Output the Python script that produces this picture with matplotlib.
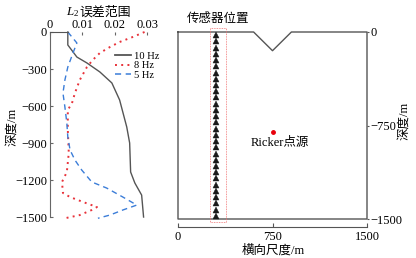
import matplotlib
matplotlib.use("Agg")
import matplotlib.pyplot as plt
from matplotlib.lines import Line2D

plt.rcParams['font.family'] = ['Liberation Serif', 'Noto Sans CJK SC']
plt.rcParams['mathtext.fontset'] = 'custom'
plt.rcParams['mathtext.rm'] = 'Liberation Serif'
plt.rcParams['mathtext.it'] = 'Liberation Serif:italic'
plt.rcParams['axes.unicode_minus'] = True

# ---- data: L2 error profiles (x = error, y = depth m) ----
err_10hz = [0.0055, 0.0055, 0.0083, 0.0114, 0.0154, 0.0191, 0.0215, 0.0237, 0.0246, 0.0249, 0.0262, 0.0283, 0.0289]
dep_10hz = [0, -105, -203, -251, -324, -413, -551, -770, -900, -1135, -1224, -1322, -1500]

err_8hz = [0.0292, 0.0255, 0.0215, 0.0185, 0.0154, 0.0132, 0.0114, 0.0092, 0.0077, 0.0068, 0.0055, 0.0055,
           0.0058, 0.0052, 0.0037, 0.0040, 0.0062, 0.0102, 0.0145, 0.0129, 0.0092, 0.0046]
dep_8hz = [0, -41, -81, -122, -170, -227, -284, -389, -495, -576, -632, -795,
           -981, -1135, -1216, -1305, -1338, -1378, -1419, -1443, -1484, -1510]

err_5hz = [0.0055, 0.0083, 0.0071, 0.0055, 0.0046, 0.0040, 0.0046, 0.0052, 0.0055, 0.0062, 0.0077, 0.0098,
           0.0129, 0.0175, 0.0225, 0.0268, 0.0225, 0.0185, 0.0148]
dep_5hz = [0, -89, -170, -284, -389, -495, -608, -738, -851, -957, -1038, -1119,
           -1216, -1265, -1338, -1403, -1443, -1484, -1510]

series_labels = ['10 Hz', '8 Hz', '5 Hz']
x_ticks_left = [0, 0.01, 0.02, 0.03]
x_ticklabels_left = ['0', '0.01', '0.02', '0.03']
y_ticks_left = [0, -300, -600, -900, -1200, -1500]

# ---- data: model geometry ----
surface_x = [0, 600, 750, 900, 1500, 1500, 0, 0]
surface_y = [0, 0, -150, 0, 0, -1500, -1500, 0]
sensor_x = 300
sensor_depths = [-25, -75, -125, -175, -225, -275, -325, -375, -425, -475,
                 -525, -575, -625, -675, -725, -775, -825, -875, -925, -975,
                 -1025, -1075, -1125, -1175, -1225, -1275, -1325, -1375, -1425, -1475]
sensor_box_x = [250, 380, 380, 250, 250]
sensor_box_y = [35, 35, -1525, -1525, 35]
source_x = [750]
source_y = [-800]
x_ticks_right = [0, 750, 1500]
y_ticks_right = [0, -750, -1500]

W, H = 416, 258
fig = plt.figure(figsize=(W / 100, H / 100), dpi=100)

def ax_rect(x0, y0, x1, y1):
    return [x0 / W, 1 - y1 / H, (x1 - x0) / W, (y1 - y0) / H]

def fx(px):
    return px / W

def fy(py):
    return 1 - py / H

fs = 9
c10, c8, c5 = '#555555', '#e8323a', '#3b7dd8'
ls8 = (0, (1, 2.2))
ls5 = (0, (4, 3))

# ---------------- left panel ----------------
ax1 = fig.add_axes(ax_rect(50, 32, 152, 219.5))
ax1.plot(err_10hz, dep_10hz, color=c10, lw=1.0, clip_on=False)
ax1.plot(err_8hz, dep_8hz, color=c8, lw=1.4, ls=ls8, clip_on=False)
ax1.plot(err_5hz, dep_5hz, color=c5, lw=1.0, ls=ls5, clip_on=False)
ax1.set_xlim(0, 0.0315)
ax1.set_ylim(-1520, 0)
for s in ['right', 'bottom']:
    ax1.spines[s].set_visible(False)
ax1.spines['left'].set_bounds(-1500, 0)
ax1.spines['top'].set_bounds(0, 0.0055)
ax1.spines['left'].set_color('#666666')
ax1.spines['top'].set_color(c10)
ax1.xaxis.tick_top()
ax1.set_xticks(x_ticks_left)
ax1.set_xticklabels(x_ticklabels_left)
ax1.set_yticks(y_ticks_left)
ax1.tick_params(axis='x', direction='in', length=2, pad=1, labelsize=fs, color='#666666')
ax1.tick_params(axis='y', direction='in', length=2, pad=2, labelsize=fs, color='#666666')
# title: italic L with subscript 2, then Chinese text
fig.text(fx(79), fy(15.5), '$L_2$', ha='right', va='baseline', fontsize=fs + 0.3)
fig.text(fx(79), fy(15.5), '误差范围', ha='left', va='baseline', fontsize=fs + 0.3,
         family=['Noto Sans CJK SC', 'Liberation Serif'])
fig.text(fx(12), fy(127), '深度/m', ha='center', va='center', rotation=90, fontsize=fs)
handles = [Line2D([], [], color=c10, lw=1.3),
           Line2D([], [], color=c8, lw=1.4, ls=ls8),
           Line2D([], [], color=c5, lw=1.1, ls=ls5)]
ax1.legend(handles, series_labels, loc='upper left', bbox_to_anchor=(0.635, 0.895),
           frameon=False, fontsize=7.6, handlelength=1.5, handletextpad=0.35,
           labelspacing=0.0, borderpad=0, borderaxespad=0)

# ---------------- right panel ----------------
ax2 = fig.add_axes(ax_rect(178, 32, 367, 219))
ax2.plot(surface_x, surface_y, color=c10, lw=1.0, clip_on=False)
ax2.plot(sensor_box_x, sensor_box_y, color='#f07070', lw=0.6, ls=(0, (1, 1)), clip_on=False)
ax2.plot([sensor_x] * len(sensor_depths), sensor_depths, ls='none', marker='^',
         ms=5.0, color='#1a1a1a', mec='#1a1a1a', mew=0.3, clip_on=False)
ax2.plot(source_x, source_y, ls='none', marker='o', ms=2.5, color='#e8000b', clip_on=False)
ax2.text(810, -890, 'Ricker点源', ha='center', va='center', fontsize=fs)
ax2.text(70, 60, '传感器位置', ha='left', va='bottom', fontsize=fs)
ax2.set_xlim(0, 1500)
ax2.set_ylim(-1500, 0)
for s in ['top', 'left', 'right']:
    ax2.spines[s].set_visible(False)
ax2.spines['bottom'].set_position(('outward', 5.8))
ax2.spines['bottom'].set_color(c10)
ax2.set_xticks(x_ticks_right)
ax2.yaxis.tick_right()
ax2.set_yticks(y_ticks_right)
ax2.tick_params(axis='x', direction='in', length=3, pad=2.5, labelsize=fs, color=c10)
ax2.tick_params(axis='y', length=1.5, pad=1, labelsize=fs, color=c10)
fig.text(fx(273), fy(250), '横向尺度/m', ha='center', va='center', fontsize=fs)
fig.text(fx(404), fy(121), '深度/m', ha='center', va='center', rotation=90, fontsize=fs)

fig.savefig('out.png', dpi=100)
